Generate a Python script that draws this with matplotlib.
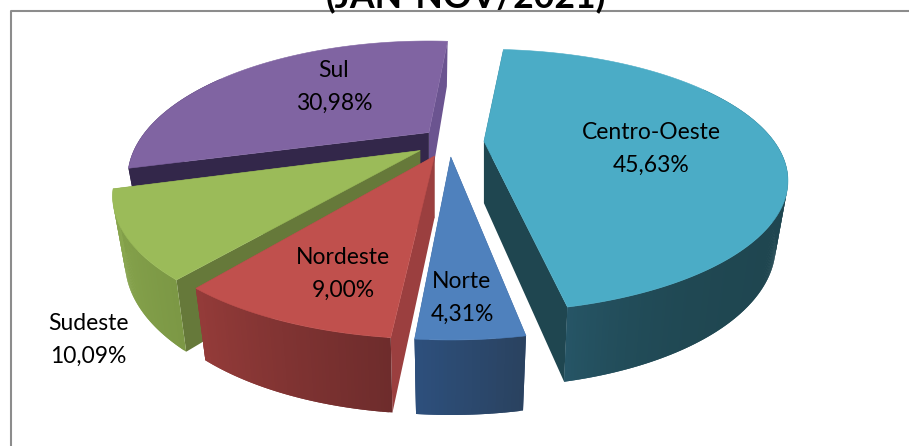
#!/usr/bin/env python3
# -*- coding: utf-8 -*-

import numpy as np
import matplotlib
matplotlib.use("Agg")
import matplotlib.pyplot as plt
from matplotlib.patches import Polygon
from matplotlib.colors import to_rgb

plt.rcParams["font.family"] = ["Lato", "DejaVu Sans"]

# pie data, clockwise from the start angle
regions = ["Centro-Oeste", "Norte", "Nordeste", "Sudeste", "Sul"]
shares = [45.63, 4.31, 9.00, 10.09, 30.98]

top_colors = ["#4bacc6", "#4f81bd", "#c0504d", "#9bbb59", "#8064a2"]
start_wall_colors = ["#1f4650", "#27416b", "#9b3f3f", "#66793a", "#33274a"]
end_wall_colors = ["#1f4650", "#27416b", "#8c3a38", "#66793a", "#6b5490"]
rim_colors_a = ["#1f4650", "#2a4260", "#6e2c2c", "#7c9845", "#33274a"]
rim_colors_b = ["#265566", "#2d4f7c", "#943b39", "#8aa84f", "#33274a"]
rim_power = [14, 1, 1, 1, 1]

# label position in px, per region
label_xy = {
    "Centro-Oeste": (651, 149),
    "Norte": (462, 298),
    "Nordeste": (343, 274),
    "Sudeste": (88, 340),
    "Sul": (334, 87),
}

START_DEG = 5.0
CX, CY = 449.0, 142.0
RX, RY = 290.0, 122.0
PERSP = 1.0 / 3.0
EXPLODE_X, EXPLODE_Y = 35.0, 15.0
SHRINK = 0.96

# small fixes per slice: x shift, perspective, radii, angle trim
slice_dx = {"Sul": 7.0, "Nordeste": -2.0}
slice_persp = {"Centro-Oeste": 0.30}
slice_ry = {"Centro-Oeste": 119.6}
slice_rx = {"Sul": 284.0}
slice_trim = {"Centro-Oeste": (0.0, -1.0), "Norte": (0.7, 0.0),
              "Nordeste": (1.0, 0.0), "Sudeste": (1.2, 0.0), "Sul": (1.0, 0.0)}


def rim_point(name, ax0, ay0, deg):
    """Top and bottom of the wall at one angle of a slice."""
    a = np.radians(deg)
    u, v = np.sin(a), -np.cos(a)
    p = 1.0 / (1.0 - slice_persp.get(name, PERSP) * v)
    x = ax0 + slice_rx.get(name, RX) * u * p
    y = ay0 + slice_ry.get(name, RY) * v * p
    h = 60.0 + 15.0 * v
    return (x, y), (ax0 + (x - ax0) * SHRINK, y + h)


def wall(ax, pts, color, z):
    ax.add_patch(Polygon(pts, closed=True, facecolor=color, edgecolor="none",
                         linewidth=0, zorder=z))


def mix(c0, c1, t):
    a, b = np.array(to_rgb(c0)), np.array(to_rgb(c1))
    return tuple(a + (b - a) * t)


def draw_slice(ax, i, a0, a1, z):
    name = regions[i]
    mid = np.radians((a0 + a1) / 2.0)
    ax0 = CX + EXPLODE_X * np.sin(mid) + slice_dx.get(name, 0.0)
    ay0 = CY - EXPLODE_Y * np.cos(mid)
    apex = (ax0, ay0)
    apex_low = (ax0, ay0 + 62.0)

    trim = slice_trim.get(name, (0.0, 0.0))
    a0, a1 = a0 + trim[0], a1 + trim[1]
    angles = np.linspace(a0, a1, max(int(a1 - a0) * 2, 12))
    tops, lows = zip(*[rim_point(name, ax0, ay0, d) for d in angles])

    # cut faces, the one nearer the viewer goes last
    start_face = ([apex, tops[0], lows[0], apex_low], start_wall_colors[i])
    end_face = ([apex, tops[-1], lows[-1], apex_low], end_wall_colors[i])
    if -np.cos(np.radians(a0)) < -np.cos(np.radians(a1)):
        faces = [start_face, end_face]
    else:
        faces = [end_face, start_face]
    for pts, col in faces:
        wall(ax, pts, col, z)

    # outer wall, shaded along the arc; each strip runs under the next one
    n = len(angles)
    for k in range(n - 1):
        if np.cos(np.radians(angles[k])) > 0.5:
            continue  # back of the pie, never seen
        t = (k / (n - 2)) ** rim_power[i]
        k2 = min(k + 2, n - 1)
        pts = list(tops[k:k2 + 1]) + list(lows[k:k2 + 1])[::-1]
        wall(ax, pts, mix(rim_colors_a[i], rim_colors_b[i], t), z + 0.1)

    ax.add_patch(Polygon([apex] + list(tops), closed=True,
                         facecolor=top_colors[i], edgecolor=top_colors[i],
                         linewidth=0.4, zorder=z + 0.2))


def main():
    fig = plt.figure(figsize=(9.09, 4.46), dpi=100)
    ax = fig.add_axes([0, 0, 1, 1])
    ax.set_xlim(0, 909)
    ax.set_ylim(446, 0)
    ax.axis("off")

    # chart frame, cut by the picture on the right and at the bottom
    ax.plot([10.5, 10.5, 909], [446, 10.5, 10.5], color="#8c8c8c", lw=1.5, zorder=1)

    ax.text(466, 8, "(JAN-NOV/2021)", ha="center", va="baseline",
            fontsize=25.7, fontweight="bold", color="black", zorder=5)

    edges = START_DEG + np.cumsum([0] + shares) * 3.6
    # back to front
    for z, i in enumerate([4, 0, 3, 2, 1]):
        draw_slice(ax, i, edges[i], edges[i + 1], 2 + z)

    for name, val in zip(regions, shares):
        x, y = label_xy[name]
        txt = f"{name}\n{val:.2f}%".replace(".", ",")
        ax.text(x, y, txt, ha="center", va="center", fontsize=16.5,
                color="black", linespacing=1.65, zorder=10)

    fig.savefig("out.png", dpi=100)
    plt.close(fig)


if __name__ == "__main__":
    main()
